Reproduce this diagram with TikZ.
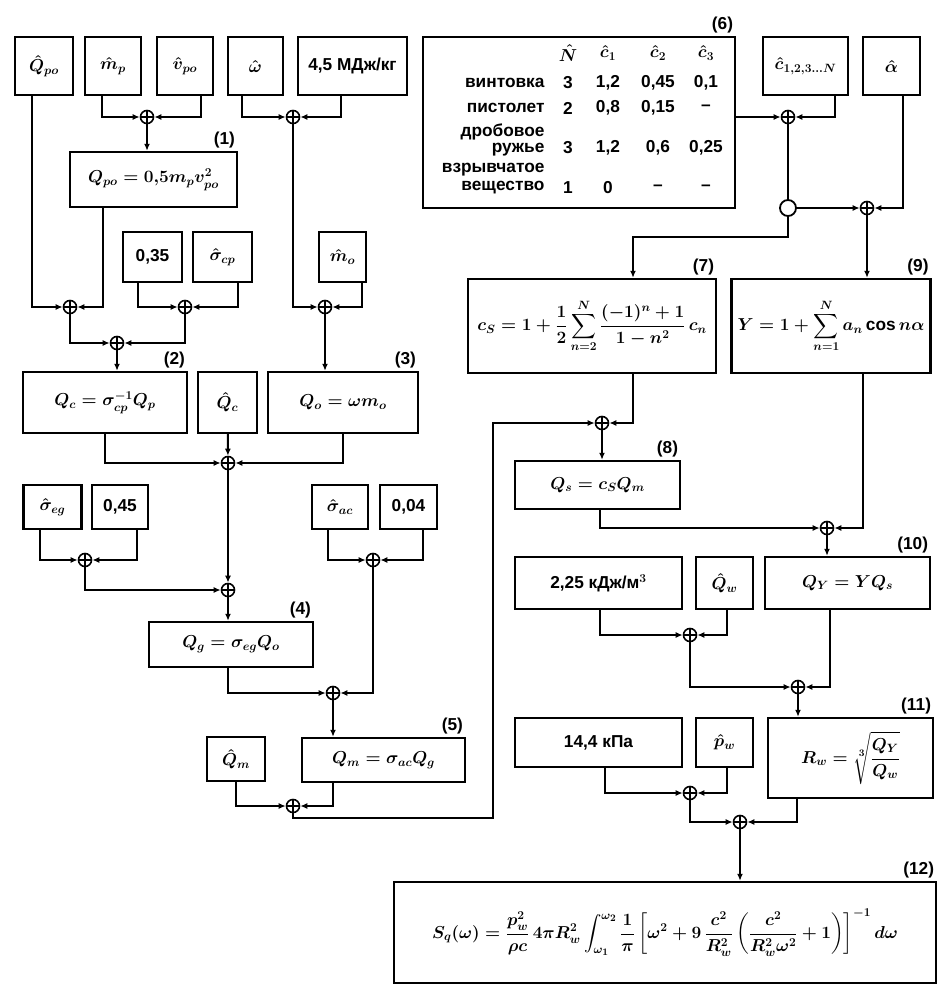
\documentclass[tikz,border=0pt]{standalone}
\usepackage{amsmath}
\usepackage{fontspec}
\setmainfont{Liberation Sans}
\usetikzlibrary{arrows.meta}

\begin{document}
\begin{tikzpicture}[x=1pt,y=-1pt,
    font=\fontsize{17.28}{19}\selectfont\bfseries\boldmath,
    caixa/.style={draw, line width=2.4pt, inner sep=2pt},
    soma/.style={circle, draw, line width=1.6pt, fill=white, minimum size=13pt, inner sep=0pt,
      path picture={\draw[line width=1.2pt] (path picture bounding box.north) -- (path picture bounding box.south)
        (path picture bounding box.west) -- (path picture bounding box.east);}},
    ramo/.style={circle, draw, line width=1.8pt, fill=white, minimum size=16pt, inner sep=0pt},
    liga/.style={line width=2pt, -{Latex[length=7pt,width=6pt]}},
    rotulo/.style={anchor=south east, inner sep=3pt}]
    \useasboundingbox (0,0) rectangle (941,985);

    % Caixas de cima
    \node[caixa, minimum width=58pt, minimum height=58pt] (qpo) at (44,66) {$\hat Q_{po}$};
    \node[caixa, minimum width=56pt, minimum height=58pt] (mp) at (113,66) {$\hat m_p$};
    \node[caixa, minimum width=56pt, minimum height=58pt] (vpo) at (185,66) {$\hat v_{po}$};
    \node[caixa, minimum width=55pt, minimum height=58pt] (om) at (255.5,66) {$\hat \omega$};
    \node[caixa, minimum width=109pt, minimum height=58pt] (kal) at (352.5,66) {4,5 МДж/кг};
    \node[soma] (s1) at (147,117) {};
    \node[soma] (s2) at (293,117) {};

    \node[caixa, minimum width=167pt, minimum height=55pt] (f1) at (153.5,179.5) {$Q_{po} = 0{,}5m_p v_{po}^2$};
    \node[rotulo] (l1) at (f1.north east) {(1)};

    \node[caixa, minimum width=59pt, minimum height=50pt] (c35) at (152.5,257) {0,35};
    \node[caixa, minimum width=59pt, minimum height=50pt] (scp) at (222.5,257) {$\hat\sigma_{cp}$};
    \node[caixa, minimum width=47pt, minimum height=50pt] (mo) at (342.5,257) {$\hat m_o$};
    \node[soma] (sA) at (70,307) {};
    \node[soma] (sB) at (185,307) {};
    \node[soma] (sC) at (325,307) {};
    \node[soma] (sD) at (117,343) {};

    \node[caixa, minimum width=164pt, minimum height=61pt] (f2) at (105,402.5) {$Q_c = \sigma_{cp}^{-1} Q_p$};
    \node[rotulo] (l2) at (f2.north east) {(2)};
    \node[caixa, minimum width=59pt, minimum height=61pt] (qc) at (227.5,402.5) {$\hat Q_c$};
    \node[caixa, minimum width=150pt, minimum height=61pt] (f3) at (343,402.5) {$Q_o = \omega m_o$};
    \node[rotulo] (l3) at (f3.north east) {(3)};
    \node[soma] (sE) at (228,463) {};

    \node[caixa, minimum width=58pt, minimum height=44pt] (seg) at (52.5,507) {$\hat\sigma_{eg}$};
    \node[caixa, minimum width=56pt, minimum height=44pt] (v45) at (120,507) {0,45};
    \node[caixa, minimum width=56pt, minimum height=44pt] (sac) at (340,507) {$\hat\sigma_{ac}$};
    \node[caixa, minimum width=57pt, minimum height=44pt] (v04) at (408.5,507) {0,04};
    \node[soma] (sG) at (85,560) {};
    \node[soma] (sH) at (373,560) {};
    \node[soma] (sF) at (228,590) {};

    \node[caixa, minimum width=164pt, minimum height=45pt] (f4) at (231,644.5) {$Q_g = \sigma_{eg} Q_o$};
    \node[rotulo] (l4) at (f4.north east) {(4)};
    \node[soma] (sI) at (333,693) {};
    \node[caixa, minimum width=163pt, minimum height=44pt] (f5) at (383.5,760) {$Q_m = \sigma_{ac} Q_g$};
    \node[rotulo] (l5) at (f5.north east) {(5)};
    \node[caixa, minimum width=58pt, minimum height=44pt] (qm) at (236,759) {$\hat Q_m$};
    \node[soma] (sJ) at (293,806) {};
    \coordinate (c1) at (493,818);

    % Tabela (6)
    \node[caixa, minimum width=312pt, minimum height=171pt] (tab) at (579,122.5) {};
    \node[rotulo] (l6) at (tab.north east) {(6)};
    \node (hN) at (568,53) {$\hat N$};
    \node (hc1) at (608,53) {$\hat c_1$};
    \node (hc2) at (658,53) {$\hat c_2$};
    \node (hc3) at (706,53) {$\hat c_3$};
    \node[anchor=east] (r1) at (548,83) {винтовка};
    \node (r1a) at (568,83) {3};
    \node (r1b) at (608,83) {1,2};
    \node (r1c) at (658,83) {0,45};
    \node (r1d) at (706,83) {0,1};
    \node[anchor=east] (r2) at (548,108) {пистолет};
    \node (r2a) at (568,108) {2};
    \node (r2b) at (608,108) {0,8};
    \node (r2c) at (658,108) {0,15};
    \node (r2d) at (706,108) {–};
    \node[anchor=east] (r3) at (548,132) {дробовое};
    \node[anchor=east] (r3x) at (548,150) {ружье};
    \node (r3a) at (568,148) {3};
    \node (r3b) at (608,148) {1,2};
    \node (r3c) at (658,148) {0,6};
    \node (r3d) at (706,148) {0,25};
    \node[anchor=east] (r4) at (548,170) {взрывчатое};
    \node[anchor=east] (r4x) at (548,188) {вещество};
    \node (r4a) at (568,188) {1};
    \node (r4b) at (608,188) {0};
    \node (r4c) at (658,188) {–};
    \node (r4d) at (706,188) {–};

    \node[caixa, minimum width=85pt, minimum height=58pt] (cn) at (805.5,66) {$\hat c_{1,2,3\ldots N}$};
    \node[caixa, minimum width=57pt, minimum height=58pt] (al) at (891.5,66) {$\hat\alpha$};
    \node[soma] (s6) at (788,117) {};
    \node[ramo] (rm) at (788,208) {};
    \node[soma] (s9) at (867,208) {};
    \coordinate (c2) at (633,237);

    \node[caixa, minimum width=248pt, minimum height=94pt] (f7) at (592,326)
      {$c_S = 1 + \dfrac12 \displaystyle\sum_{n=2}^{N} \dfrac{(-1)^n+1}{1-n^2}\,c_n$};
    \node[rotulo] (l7) at (f7.north east) {(7)};
    \node[caixa, minimum width=199pt, minimum height=94pt] (f9) at (831,326)
      {$Y = 1 + \displaystyle\sum_{n=1}^{N} a_n \cos n\alpha$};
    \node[rotulo] (l9) at (f9.north east) {(9)};

    \node[soma] (s8) at (602,423) {};
    \node[caixa, minimum width=165pt, minimum height=48pt] (f8) at (597.5,485) {$Q_s = c_S Q_m$};
    \node[rotulo] (l8) at (f8.north east) {(8)};
    \node[soma] (s10) at (827,528) {};

    \node[caixa, minimum width=167pt, minimum height=52pt] (k225) at (598.5,583) {2,25 кДж/м$^3$};
    \node[caixa, minimum width=57pt, minimum height=52pt] (qw) at (724.5,583) {$\hat Q_w$};
    \node[caixa, minimum width=165pt, minimum height=52pt] (f10) at (847.5,583) {$Q_Y = YQ_s$};
    \node[rotulo] (l10) at (f10.north east) {(10)};
    \node[soma] (s11a) at (690,635) {};
    \node[soma] (s11) at (798,687) {};

    \node[caixa, minimum width=167pt, minimum height=49pt] (k144) at (598.5,742.5) {14,4 кПа};
    \node[caixa, minimum width=57pt, minimum height=49pt] (pw) at (724.5,742.5) {$\hat p_w$};
    \node[caixa, minimum width=165pt, minimum height=80pt] (f11) at (850.5,758)
      {$R_w = \sqrt[3]{\dfrac{Q_Y}{Q_w}}$};
    \node[rotulo] (l11) at (f11.north east) {(11)};
    \node[soma] (s12a) at (690,793) {};
    \node[soma] (s12) at (740,822) {};

    \node[caixa, minimum width=542pt, minimum height=101pt] (f12) at (665,932.5)
      {$\displaystyle S_q(\omega) = \frac{p_w^2}{\rho c}\,4\pi R_w^2 \int_{\omega_1}^{\omega_2} \frac{1}{\pi}
        \left[\omega^2 + 9\,\frac{c^2}{R_w^2}\left(\frac{c^2}{R_w^2\omega^2} + 1\right)\right]^{-1} d\omega$};
    \node[rotulo] (l12) at (f12.north east) {(12)};

    % Ligacoes da esquerda
    \draw[liga] ([xshift=-11pt]mp.south) |- (s1);
    \draw[liga] ([xshift=16pt]vpo.south) |- (s1);
    \draw[liga] ([xshift=-13.5pt]om.south) |- (s2);
    \draw[liga] ([xshift=-11.5pt]kal.south) |- (s2);
    \draw[liga] (s1) -- (s1 |- f1.north);
    \draw[liga] ([xshift=-12pt]qpo.south) |- (sA);
    \draw[liga] ([xshift=-50.5pt]f1.south) |- (sA);
    \draw[liga] ([xshift=-14.5pt]c35.south) |- (sB);
    \draw[liga] ([xshift=15.5pt]scp.south) |- (sB);
    \draw[liga] (s2) |- (sC);
    \draw[liga] ([xshift=19.5pt]mo.south) |- (sC);
    \draw[liga] (sA) |- (sD);
    \draw[liga] (sB) |- (sD);
    \draw[liga] (sD) -- (sD |- f2.north);
    \draw[liga] (sC) -- (sC |- f3.north);
    \draw[liga] (f2.south) |- (sE);
    \draw[liga] (qc) -- (sE);
    \draw[liga] (f3.south) |- (sE);
    \draw[liga] (sE) -- (sF);
    \draw[liga] ([xshift=-12.5pt]seg.south) |- (sG);
    \draw[liga] ([xshift=17pt]v45.south) |- (sG);
    \draw[liga] (sG) |- (sF);
    \draw[liga] (sF) -- (sF |- f4.north);
    \draw[liga] ([xshift=-12pt]sac.south) |- (sH);
    \draw[liga] ([xshift=14.5pt]v04.south) |- (sH);
    \draw[liga] ([xshift=-3pt]f4.south) |- (sI);
    \draw[liga] (sH) |- (sI);
    \draw[liga] (sI) -- (sI |- f5.north);
    \draw[liga] (qm.south) |- (sJ);
    \draw[liga] ([xshift=-50.5pt]f5.south) |- (sJ);
    \draw[liga] (sJ) |- (c1) |- (s8);

    % Ligacoes da direita
    \draw[liga] (tab.east |- s6) -- (s6);
    \draw[liga] ([xshift=29.5pt]cn.south) |- (s6);
    \draw[line width=2pt] (s6) -- (rm);
    \draw[liga] (rm) -- (s9);
    \draw[liga] ([xshift=11.5pt]al.south) |- (s9);
    \draw[liga] (rm) |- (c2) -- (c2 |- f7.north);
    \draw[liga] (s9) -- (s9 |- f9.north);
    \draw[liga] ([xshift=41pt]f7.south) |- (s8);
    \draw[liga] (s8) -- (s8 |- f8.north);
    \draw[liga] ([xshift=2.5pt]f8.south) |- (s10);
    \draw[liga] ([xshift=32pt]f9.south) |- (s10);
    \draw[liga] (s10) -- (s10 |- f10.north);
    \draw[liga] ([xshift=1.5pt]k225.south) |- (s11a);
    \draw[liga] ([xshift=2.5pt]qw.south) |- (s11a);
    \draw[liga] (s11a) |- (s11);
    \draw[liga] ([xshift=-17.5pt]f10.south) |- (s11);
    \draw[liga] (s11) -- (s11 |- f11.north);
    \draw[liga] ([xshift=6.5pt]k144.south) |- (s12a);
    \draw[liga] ([xshift=2.5pt]pw.south) |- (s12a);
    \draw[liga] (s12a) |- (s12);
    \draw[liga] ([xshift=-53.5pt]f11.south) |- (s12);
    \draw[liga] (s12) -- (s12 |- f12.north);
\end{tikzpicture}
\end{document}
